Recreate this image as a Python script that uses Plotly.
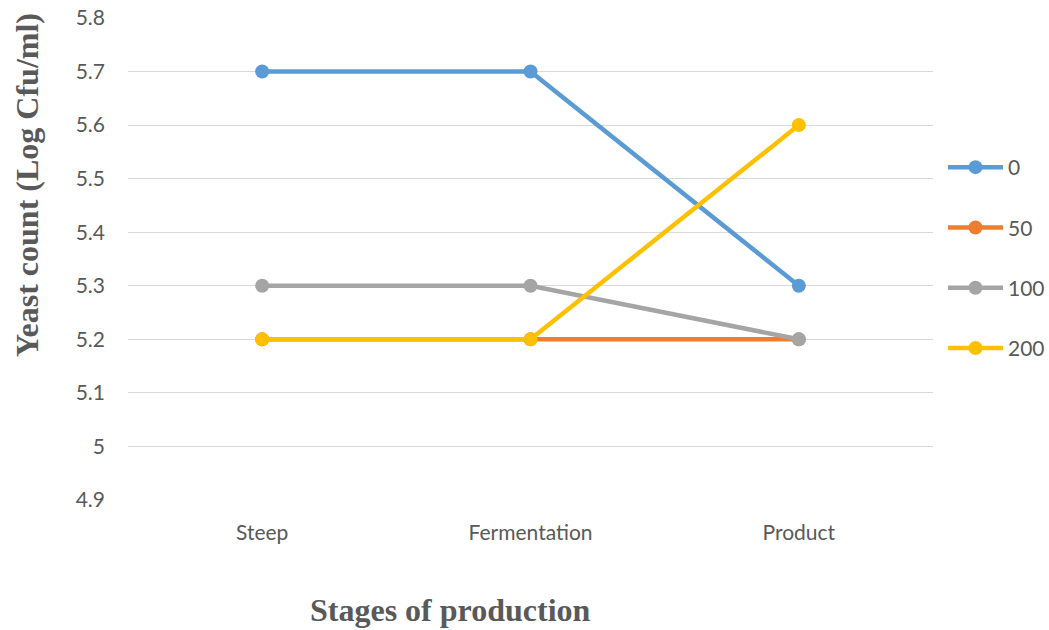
import plotly.graph_objects as go

# Yeast count through the production stages, per treatment level
stages = ["Steep", "Fermentation", "Product"]
series_names = ["0", "50", "100", "200"]
yeast_0 = [5.7, 5.7, 5.3]
yeast_50 = [5.2, 5.2, 5.2]
yeast_100 = [5.3, 5.3, 5.2]
yeast_200 = [5.2, 5.2, 5.6]
y_ticks = [4.9, 5.0, 5.1, 5.2, 5.3, 5.4, 5.5, 5.6, 5.7, 5.8]
y_tick_text = ["4.9", "5", "5.1", "5.2", "5.3", "5.4", "5.5", "5.6", "5.7", "5.8"]

colors = ["#5B9BD5", "#ED7D31", "#A5A5A5", "#FFC000"]
values = [yeast_0, yeast_50, yeast_100, yeast_200]

fig = go.Figure()
for name, vals, col in zip(series_names, values, colors):
    fig.add_trace(go.Scatter(
        x=stages, y=vals, name=name, mode="lines+markers",
        line=dict(color=col, width=4.5),
        marker=dict(color=col, size=14),
        legendgroup=name,
    ))

tick_font = dict(family="Lato, Open Sans, sans-serif", size=21, color="#595959")
title_font = dict(family="Liberation Serif, Times New Roman, serif", size=32, color="#595959")

fig.update_layout(
    width=1049, height=630,
    margin=dict(l=128, r=116, t=18, b=130, autoexpand=False),
    paper_bgcolor="white", plot_bgcolor="white",
    showlegend=True,
    legend=dict(
        xref="container", yref="container",
        x=943 / 1049, xanchor="left", y=1 - 258 / 630, yanchor="middle",
        font=tick_font, traceorder="grouped", tracegroupgap=30,
        itemwidth=55, bgcolor="rgba(0,0,0,0)",
    ),
    xaxis=dict(
        type="category", range=[-0.5, 2.5], showgrid=False, zeroline=False,
        showline=False, tickfont=tick_font, ticks="", ticklabelstandoff=18,
        automargin=False,
    ),
    yaxis=dict(
        range=[4.9, 5.8], tickvals=y_ticks, ticktext=y_tick_text,
        showgrid=True, gridcolor="#D9D9D9", gridwidth=1,
        zeroline=False, showline=False, tickfont=tick_font,
        ticks="", ticklabelstandoff=22, automargin=False,
    ),
    annotations=[
        dict(text="<b>Stages of production</b>", xref="paper", yref="paper",
             x=(450 - 128) / 805, y=-(610 - 500) / 482, xanchor="center", yanchor="middle",
             showarrow=False, font=title_font),
        dict(text="<b>Yeast count (Log Cfu/ml)</b>", xref="paper", yref="paper",
             x=-(128 - 27) / 805, y=(500 - 185) / 482, xanchor="center", yanchor="middle",
             textangle=-90, showarrow=False, font=title_font),
    ],
)

fig.write_html("out.html")
